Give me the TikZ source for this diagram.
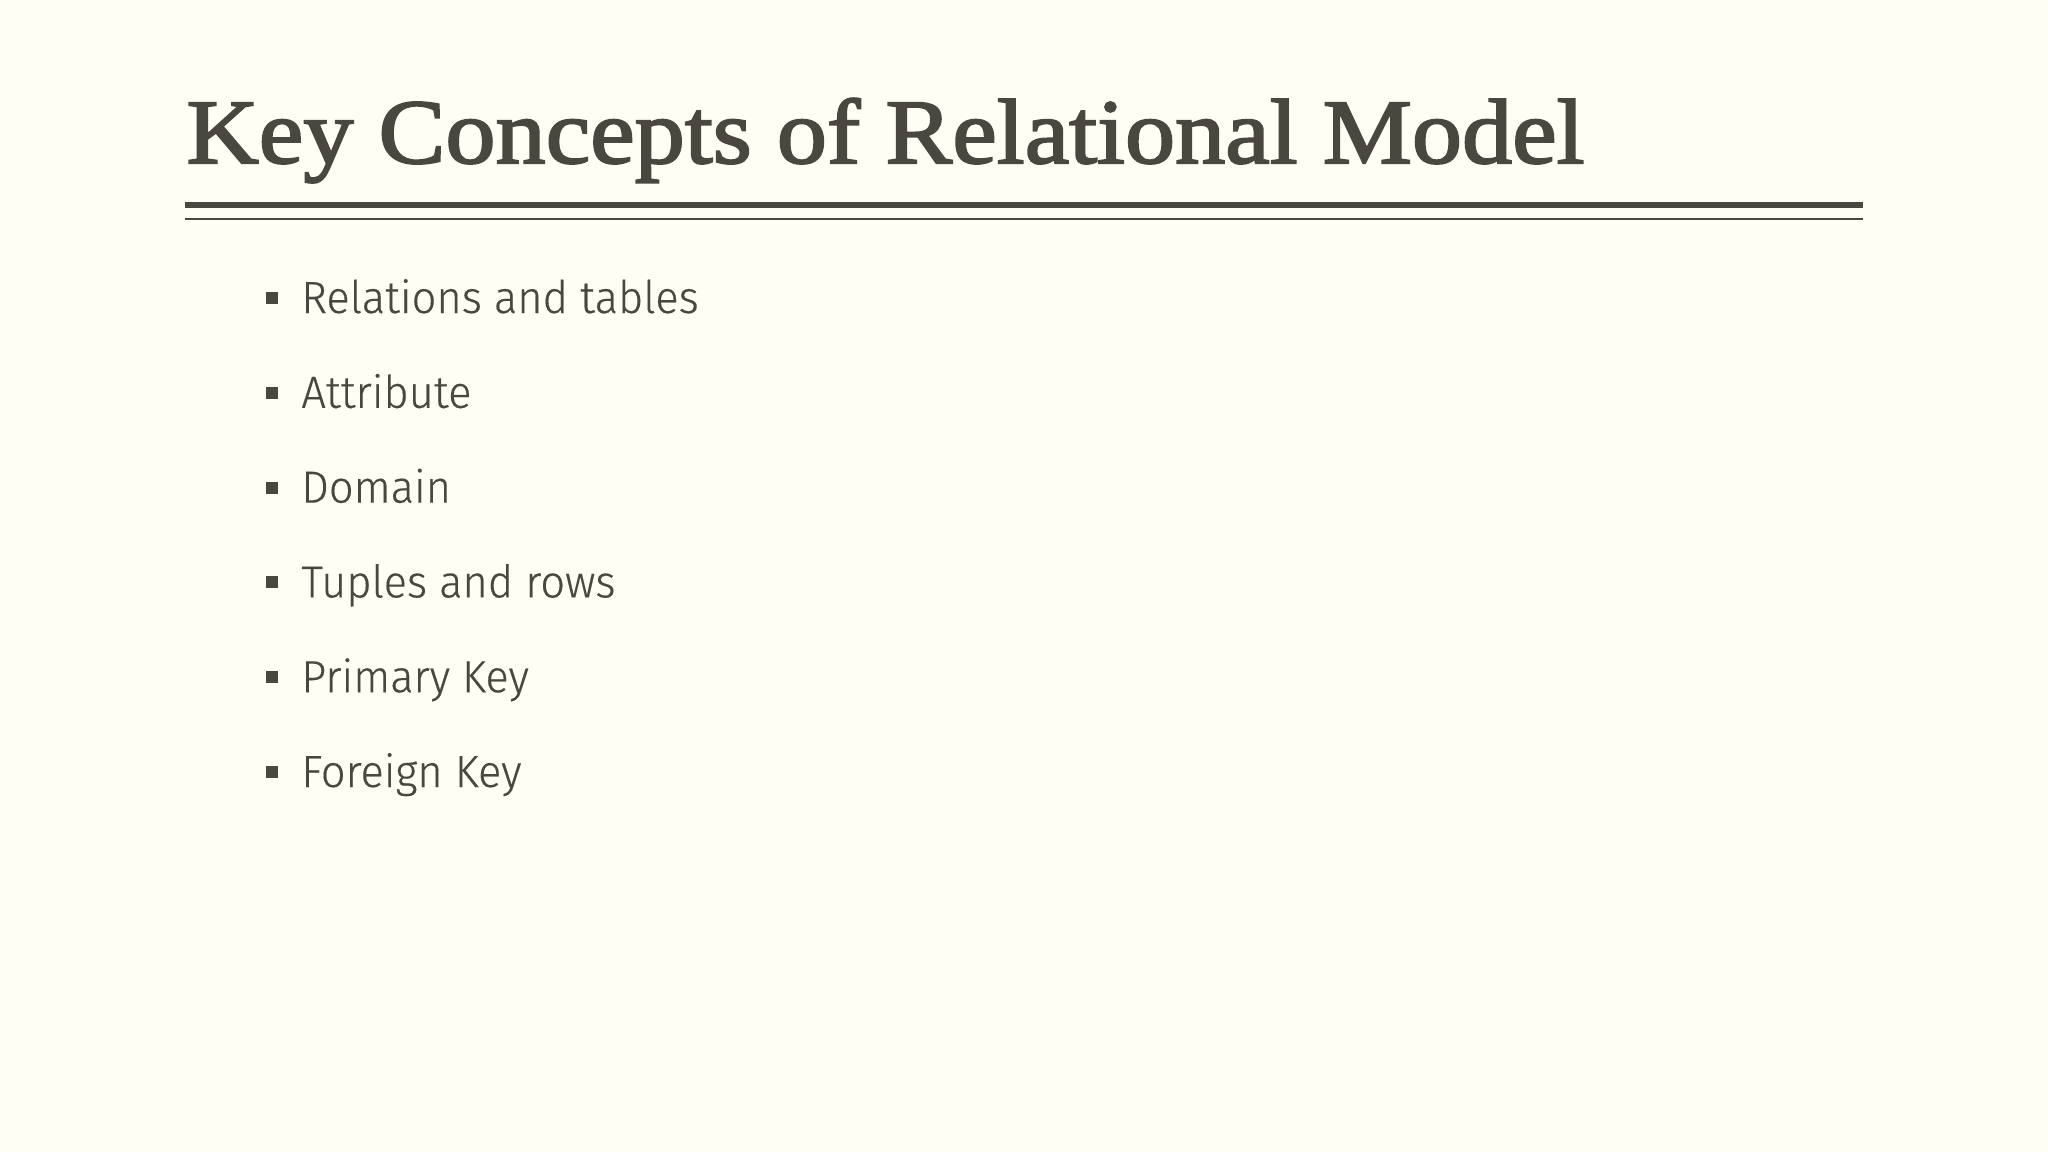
\documentclass[tikz,border=0pt]{standalone}
\usepackage{fontspec}
\setmainfont{Liberation Serif}
\newfontfamily\titlefont{Liberation Serif}[FakeBold=2.2,FakeStretch=1.09]
\setsansfont{Fira Sans}[UprightFont=* Light,FakeStretch=0.965,FakeBold=0.3]
\definecolor{bg}{HTML}{FEFEF5}
\definecolor{ink}{HTML}{4A4740}
\begin{document}
\begin{tikzpicture}[x=0.5pt,y=-0.5pt,
  titletext/.style={anchor=base west,inner sep=0pt,text=ink,font=\titlefont\fontsize{46}{50}\selectfont},
  itemtext/.style={anchor=base west,inner sep=0pt,text=ink,font=\sffamily\fontsize{22.5}{26}\selectfont},
  bulletsq/.style={fill=ink,draw=none,minimum size=6pt,inner sep=0pt}]
\fill[bg] (0,0) rectangle (2048,1152);
\useasboundingbox (0,0) rectangle (2048,1152);
\node[titletext] (title) at (186,163) {Key Concepts of Relational Model};
\coordinate (l1a) at (185,204.7); \coordinate (l1b) at (1863,204.7);
\coordinate (l2a) at (185,219); \coordinate (l2b) at (1863,219);
\draw[ink,line width=3pt] (l1a) -- (l1b);
\draw[ink,line width=1.1pt] (l2a) -- (l2b);
\foreach \t [count=\i] in {Relations and tables,Attribute,Domain,Tuples and rows,Primary Key,Foreign Key}{
  \pgfmathsetmacro{\yy}{298+94.8*(\i-1)}
  \node[bulletsq] (b\i) at (272,\yy) {};
  \node[itemtext] (t\i) at (301,\yy+15) {\t};
}
\end{tikzpicture}
\end{document}
